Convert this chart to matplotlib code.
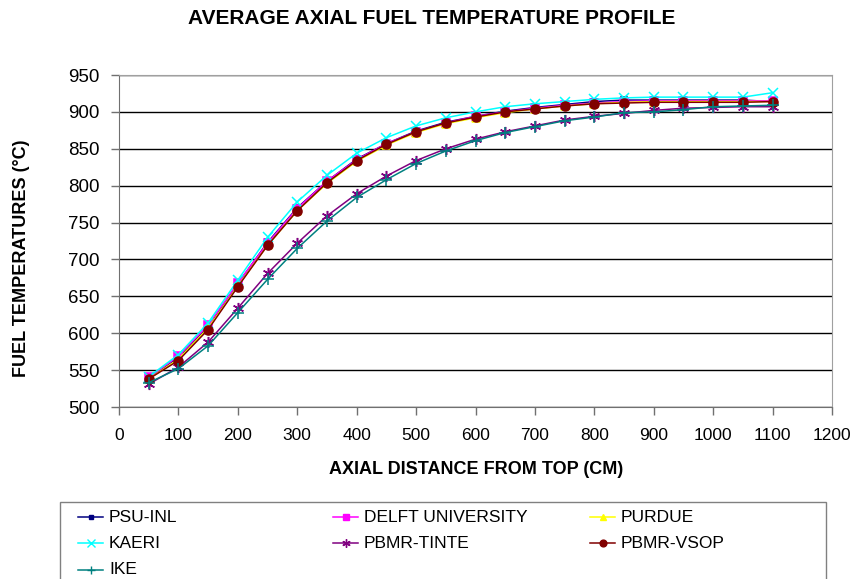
import matplotlib
matplotlib.use("Agg")
import matplotlib.pyplot as plt
from matplotlib.lines import Line2D
from matplotlib.patches import Rectangle

plt.rcParams['font.family'] = ['Liberation Sans', 'DejaVu Sans']

# axial positions (cm) and average fuel temperatures (C)
axial_cm = [50, 100, 150, 200, 250, 300, 350, 400, 450, 500, 550,
            600, 650, 700, 750, 800, 850, 900, 950, 1000, 1050, 1100]

psu_inl = [539, 567, 609, 667, 723, 770, 806, 836, 857, 874, 886,
           894, 901, 906, 910, 914, 916, 916, 916, 916, 916, 914]
delft = [540, 569, 611, 668, 722, 769, 806, 835, 857, 873, 885,
         894, 900, 905, 909, 912, 914, 915, 915, 915, 915, 915]
purdue = [538, 565, 607, 664, 719, 766, 803, 833, 855, 872, 884,
          892, 899, 904, 908, 911, 913, 914, 914, 914, 914, 914]
kaeri = [541, 571, 614, 672, 730, 778, 814, 844, 865, 881, 892,
         900, 907, 911, 914, 917, 919, 920, 920, 920, 920, 926]
pbmr_tinte = [531, 554, 588, 634, 681, 722, 759, 789, 813, 834, 850,
              863, 873, 881, 889, 894, 898, 902, 905, 906, 907, 907]
pbmr_vsop = [538, 563, 605, 663, 719, 766, 804, 834, 856, 873, 885,
             893, 900, 904, 908, 911, 912, 913, 913, 913, 913, 914]
ike = [533, 552, 583, 628, 673, 715, 752, 784, 808, 830, 847,
       861, 872, 880, 888, 893, 899, 900, 903, 907, 908, 909]

labels = ['PSU-INL', 'DELFT UNIVERSITY', 'PURDUE', 'KAERI',
          'PBMR-TINTE', 'PBMR-VSOP', 'IKE']
series = [psu_inl, delft, purdue, kaeri, pbmr_tinte, pbmr_vsop, ike]

# excel-like styles: colour, marker, marker size
styles = [('#000080', 's', 4),
          ('#ff00ff', 's', 6),
          ('#ffff00', '^', 6),
          ('#00ffff', 'x', 7),
          ('#800080', (6, 2, 0), 8),
          ('#800000', 'o', 6.5),
          ('#008080', '+', 8)]

W, H = 864, 579
fig = plt.figure(figsize=(W / 100, H / 100), dpi=100)
ax = fig.add_axes([119 / W, 1 - 407 / H, (832 - 119) / W, (407 - 75) / H])

for vals, (col, mk, ms) in zip(series, styles):
    ax.plot(axial_cm, vals, color=col, marker=mk, markersize=ms,
            markeredgecolor=col, linewidth=1.1, markeredgewidth=1.1)

ax.set_xlim(0, 1200)
ax.set_ylim(500, 950)
ax.set_xticks(range(0, 1201, 100))
ax.set_yticks(range(500, 951, 50))
ax.yaxis.grid(True, color='black', linewidth=1)
ax.set_axisbelow(True)
ax.tick_params(axis='both', direction='out', length=6, width=1,
               color='#707070')
ax.tick_params(axis='x', pad=9, labelsize=12.5)
ax.tick_params(axis='y', pad=8, labelsize=13.5)
for s in ['top', 'right']:
    ax.spines[s].set_color('#a0a0a0')
for s in ['left', 'bottom']:
    ax.spines[s].set_color('#707070')

fig.text(432 / W, 1 - 18 / H, 'AVERAGE AXIAL FUEL TEMPERATURE PROFILE',
         ha='center', va='center', fontsize=15, fontweight='bold')
fig.text(476 / W, 1 - 470 / H, 'AXIAL DISTANCE FROM TOP (CM)',
         ha='center', va='center', fontsize=13, fontweight='bold')
fig.text(22 / W, 1 - 258 / H, 'FUEL TEMPERATURES (\u00b0C)', rotation=90,
         ha='center', va='center', fontsize=13, fontweight='bold')

# legend box, three columns, filled row by row
fig.patches.append(Rectangle((60 / W, 1 - 600 / H), 766 / W, 98 / H,
                             transform=fig.transFigure, fill=False,
                             edgecolor='#808080', linewidth=1))
col_x = [78, 333, 590]
row_y = [517, 543, 570]
for i, (lab, (col, mk, ms)) in enumerate(zip(labels, styles)):
    cx = col_x[i % 3]
    ry = row_y[i // 3]
    fig.lines.append(Line2D([cx / W, (cx + 25) / W], [1 - ry / H, 1 - ry / H],
                            transform=fig.transFigure, color=col,
                            linewidth=1.1))
    fig.lines.append(Line2D([(cx + 12.5) / W], [1 - ry / H],
                            transform=fig.transFigure, color=col,
                            marker=mk, markersize=ms * 0.75,
                            markeredgecolor=col, markeredgewidth=1))
    fig.text((cx + 31) / W, 1 - ry / H, lab, ha='left', va='center',
             fontsize=12.5)

fig.savefig('out.png', dpi=100)
